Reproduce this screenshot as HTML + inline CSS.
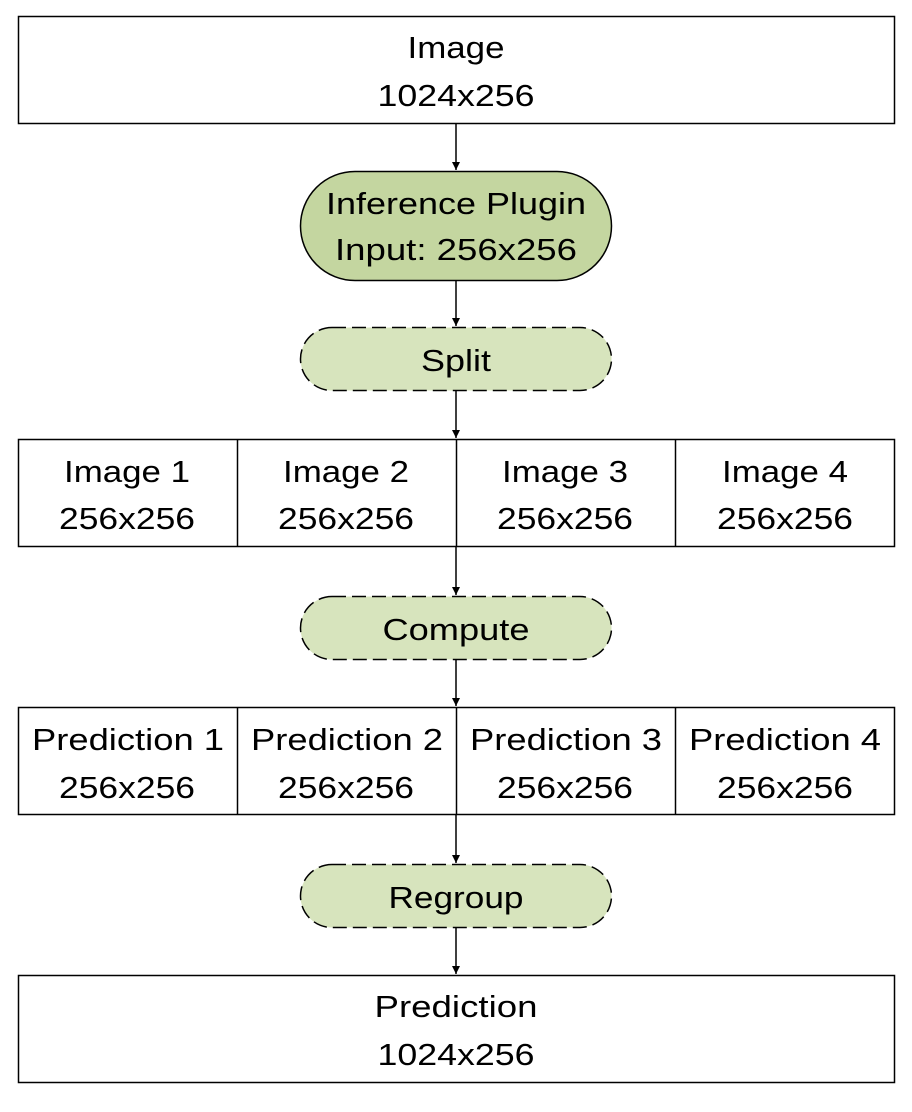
<!DOCTYPE html>
<html><head><style>html,body{margin:0;padding:0;background:#fff}</style></head><body>
<svg width="912" height="1107" viewBox="0 0 912 1107" xmlns="http://www.w3.org/2000/svg" font-family="'Liberation Sans',sans-serif" font-size="31" fill="#000">
<defs><marker id="a" markerWidth="10" markerHeight="10" refX="8" refY="4" orient="auto" markerUnits="userSpaceOnUse"><path d="M0,0 L8,4 L0,8 z" fill="#000"/></marker></defs>
<g stroke="#000" stroke-width="1.5" fill="none">
<line x1="456" y1="124" x2="456" y2="170" marker-end="url(#a)"/>
<line x1="456" y1="281" x2="456" y2="326" marker-end="url(#a)"/>
<line x1="456" y1="391" x2="456" y2="438" marker-end="url(#a)"/>
<line x1="456" y1="547" x2="456" y2="595" marker-end="url(#a)"/>
<line x1="456" y1="660" x2="456" y2="706" marker-end="url(#a)"/>
<line x1="456" y1="815" x2="456" y2="863" marker-end="url(#a)"/>
<line x1="456" y1="928" x2="456" y2="974" marker-end="url(#a)"/>
<rect x="18.5" y="16.5" width="876" height="107"/>
<rect x="300.5" y="171.5" width="311" height="109" rx="54.5" fill="#c4d6a0"/>
<rect x="300.5" y="327.5" width="311" height="63" rx="31.5" fill="#d7e4bd" stroke-dasharray="14,6"/>
<rect x="18.5" y="439.5" width="876" height="107"/>
<line x1="237.5" y1="439" x2="237.5" y2="547"/><line x1="456.5" y1="439" x2="456.5" y2="547"/><line x1="675.5" y1="439" x2="675.5" y2="547"/>
<rect x="300.5" y="596.5" width="311" height="63" rx="31.5" fill="#d7e4bd" stroke-dasharray="14,6"/>
<rect x="18.5" y="707.5" width="876" height="107"/>
<line x1="237.5" y1="707" x2="237.5" y2="815"/><line x1="456.5" y1="707" x2="456.5" y2="815"/><line x1="675.5" y1="707" x2="675.5" y2="815"/>
<rect x="300.5" y="864.5" width="311" height="63" rx="31.5" fill="#d7e4bd" stroke-dasharray="14,6"/>
<rect x="18.5" y="975.5" width="876" height="107"/>
</g>
<g text-anchor="middle">
<text x="456" y="58" textLength="97" lengthAdjust="spacingAndGlyphs">Image</text>
<text x="456" y="106" textLength="157" lengthAdjust="spacingAndGlyphs">1024x256</text>
<text x="456" y="214" textLength="260" lengthAdjust="spacingAndGlyphs">Inference Plugin</text>
<text x="456" y="260" textLength="242" lengthAdjust="spacingAndGlyphs">Input: 256x256</text>
<text x="456" y="371" textLength="70" lengthAdjust="spacingAndGlyphs">Split</text>
<text x="127" y="482" textLength="126" lengthAdjust="spacingAndGlyphs">Image 1</text>
<text x="346" y="482" textLength="126" lengthAdjust="spacingAndGlyphs">Image 2</text>
<text x="565" y="482" textLength="126" lengthAdjust="spacingAndGlyphs">Image 3</text>
<text x="785" y="482" textLength="126" lengthAdjust="spacingAndGlyphs">Image 4</text>
<text x="127" y="529" textLength="136" lengthAdjust="spacingAndGlyphs">256x256</text>
<text x="346" y="529" textLength="136" lengthAdjust="spacingAndGlyphs">256x256</text>
<text x="565" y="529" textLength="136" lengthAdjust="spacingAndGlyphs">256x256</text>
<text x="785" y="529" textLength="136" lengthAdjust="spacingAndGlyphs">256x256</text>
<text x="456" y="640" textLength="147" lengthAdjust="spacingAndGlyphs">Compute</text>
<text x="128" y="750" textLength="192" lengthAdjust="spacingAndGlyphs">Prediction 1</text>
<text x="347" y="750" textLength="192" lengthAdjust="spacingAndGlyphs">Prediction 2</text>
<text x="566" y="750" textLength="192" lengthAdjust="spacingAndGlyphs">Prediction 3</text>
<text x="785" y="750" textLength="192" lengthAdjust="spacingAndGlyphs">Prediction 4</text>
<text x="127" y="798" textLength="136" lengthAdjust="spacingAndGlyphs">256x256</text>
<text x="346" y="798" textLength="136" lengthAdjust="spacingAndGlyphs">256x256</text>
<text x="565" y="798" textLength="136" lengthAdjust="spacingAndGlyphs">256x256</text>
<text x="785" y="798" textLength="136" lengthAdjust="spacingAndGlyphs">256x256</text>
<text x="456" y="908" textLength="135" lengthAdjust="spacingAndGlyphs">Regroup</text>
<text x="456" y="1017" textLength="163" lengthAdjust="spacingAndGlyphs">Prediction</text>
<text x="456" y="1065" textLength="157" lengthAdjust="spacingAndGlyphs">1024x256</text>
</g>
</svg>
</body></html>
